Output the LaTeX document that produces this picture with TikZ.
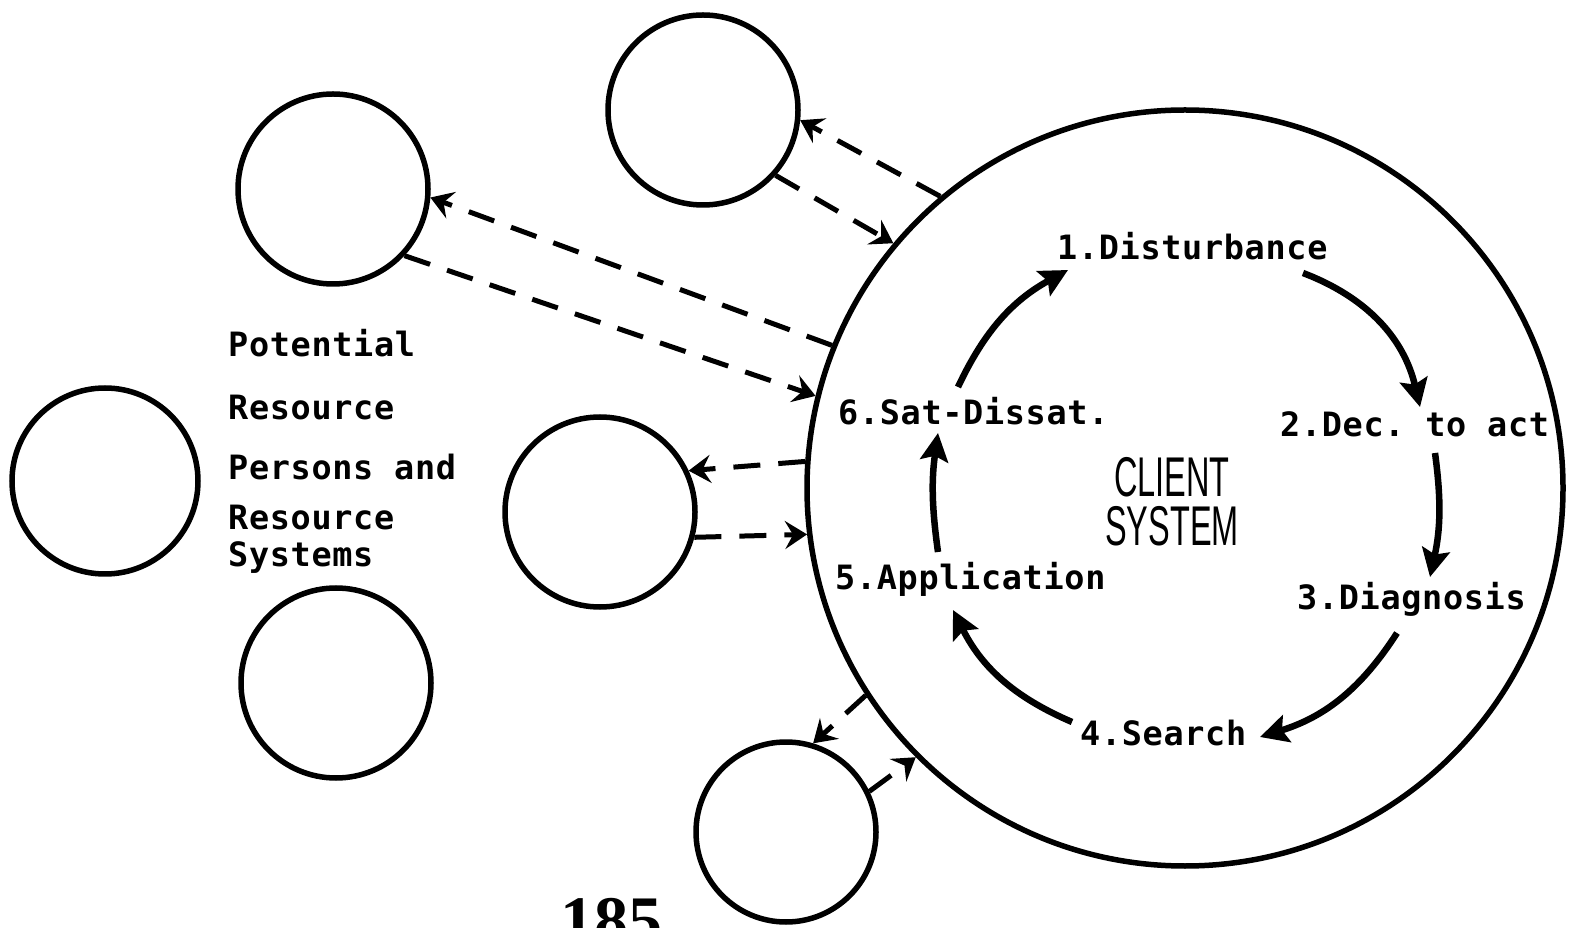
\documentclass[tikz,border=0pt]{standalone}
\usepackage{fontspec}
\setmonofont[LetterSpace=2]{DejaVu Sans Mono}
\newfontfamily\condfont[FakeStretch=0.58]{Liberation Sans}
\newfontfamily\pagefont{Liberation Serif}
\usetikzlibrary{arrows.meta}
\newcommand{\ringsize}{190pt}

\begin{document}
\begin{tikzpicture}[x=1pt,y=1pt,
    res/.style={draw, circle, line width=5.5pt, minimum size=\ringsize, inner sep=0pt},
    lbl/.style={anchor=base west, inner sep=0pt, font=\ttfamily\bfseries\fontsize{33.5}{40}\selectfont},
    link/.style={line width=5pt, dash pattern=on 27pt off 18pt,
      -{Stealth[length=22pt,width=28pt,inset=8pt]}},
    cycarrow/.style={line width=6.5pt, -{Stealth[length=28pt,width=28pt,inset=5pt]}}]

        \useasboundingbox (0,0) rectangle (1571,927);

        % client system and the resource circles
        \node (sys) at (1185,439) [res, minimum size=756pt] {};
        \node (top) at (703,817) [res] {};
        \node (upleft) at (333,738) [res] {};
        \node (farleft) at (105,446) [res, minimum size=186pt] {};
        \node (mid) at (600,415) [res] {};
        \node (lowleft) at (336,244) [res] {};
        \node (bottom) at (786,95) [res, minimum size=180pt] {};

        \draw[link] (sys.130) to (top.-6);
        \draw[link] (top.-42) to (sys.140);
        \draw[link] (sys.158) to (upleft.-5);
        \draw[link] (upleft.-43) to (sys.166);
        \draw[link] (sys.176) to (mid.25);
        \draw[link] (mid.-15) to (sys.-173);
        \draw[link] (sys.-147) to (bottom.73);
        \draw[link] (bottom.26) to (sys.-135);

        \node (pot1) at (228,570) [lbl] {Potential};
        \node (pot2) at (228,507) [lbl] {Resource};
        \node (pot3) at (228,447) [lbl] {Persons and};
        \node (pot4) at (228,397) [lbl] {Resource};
        \node (pot5) at (228,360) [lbl] {Systems};

        % the six steps
        \node (dist) at (1057,667) [lbl] {1.Disturbance};
        \node (dec) at (1280,490) [lbl] {2.Dec. to act};
        \node (diag) at (1297,317) [lbl] {3.Diagnosis};
        \node (search) at (1080,182) [lbl] {4.Search};
        \node (appl) at (835,337) [lbl] {5.Application};
        \node (sat) at (838,502) [lbl] {6.Sat-Dissat.};

        \node (client) at (1172,425) [align=center, inner sep=0pt,
          font=\condfont\fontsize{56}{49}\selectfont] {CLIENT\\SYSTEM};

        \draw[cycarrow] ([shift={(120,38)}]sat.base west) to[bend left=18] ([shift={(11,-10)}]dist.base west);
        \draw[cycarrow] ([shift={(246,-13)}]dist.base west) to[bend left=28] ([shift={(140,30)}]dec.base west);
        \draw[cycarrow] ([shift={(155,-16)}]dec.base west) to[bend left=10] ([shift={(133,33)}]diag.base west);
        \draw[cycarrow] ([shift={(100,-23)}]diag.base west) to[bend left=20] ([shift={(180,8)}]search.base west);
        \draw[cycarrow] ([shift={(-8,23)}]search.base west) to[bend left=20] ([shift={(118,-20)}]appl.base west);
        \draw[cycarrow] ([shift={(103,38)}]appl.base west) to[bend left=8] ([shift={(100,-8)}]sat.base west);

        %\draw (600,-40) node {page};
        \node (pagenum) at (560,-16) [anchor=base west, inner sep=0pt,
          font=\pagefont\bfseries\fontsize{68}{80}\selectfont] {185};
\end{tikzpicture}
\end{document}
